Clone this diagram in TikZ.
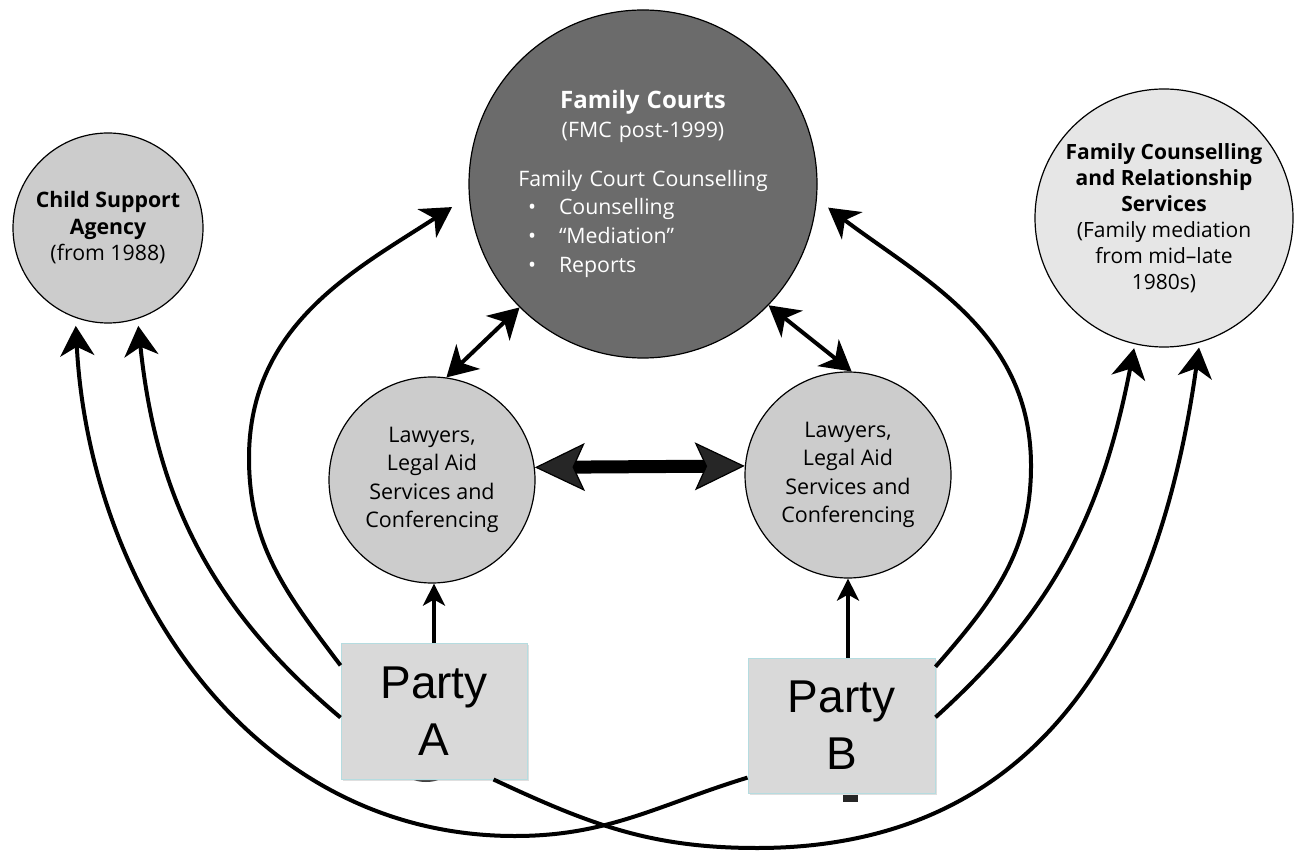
\documentclass[tikz,border=0pt]{standalone}
\usepackage{fontspec}
\setmainfont{Open Sans}
\newfontfamily\arialfont{Liberation Sans}
\usetikzlibrary{arrows.meta}
\usetikzlibrary{shadows}

\definecolor{courtgray}{HTML}{6B6B6B}
\definecolor{agencygray}{HTML}{CCCCCC}
\definecolor{servicegray}{HTML}{E6E6E6}
\definecolor{partygray}{HTML}{D9D9D9}
\definecolor{partyedge}{HTML}{B5DCE0}
\definecolor{headgray}{HTML}{262626}

\newcommand{\bulletline}[1]{\makebox[270pt][l]{\hspace*{20pt}\makebox[31pt][l]{•}#1}}

\begin{document}
\begin{tikzpicture}[x=1pt,y=1pt,
	bubble/.style={circle,draw=black,line width=1.2pt,inner sep=0pt,align=center},
	lawyer/.style={bubble,fill=agencygray,minimum size=206pt,font=\fontsize{21.5}{28.5}\selectfont},
	party/.style={rectangle,fill=partygray,draw=partyedge,line width=1pt,align=center,
		font=\arialfont\fontsize{46}{57}\selectfont,
		drop shadow={opacity=0.25,shadow xshift=1.5pt,shadow yshift=-2pt}},
	link/.style={line width=4pt,-{Stealth[length=30pt,width=34pt,inset=9pt]}},
	twoway/.style={line width=4pt,{Stealth[length=30pt,width=34pt,inset=9pt]}-{Stealth[length=30pt,width=34pt,inset=9pt]}},
	up/.style={line width=4pt,-{Stealth[length=22pt,width=22pt,inset=6pt]}},
	bigway/.style={line width=13pt,
		{Stealth[length=50pt,width=48pt,inset=11pt,line width=1.2pt,fill=headgray]}-{Stealth[length=50pt,width=48pt,inset=11pt,line width=1.2pt,fill=headgray]}}]
				\useasboundingbox (0,0) rectangle (1297,852);
				
				\node[bubble,fill=courtgray,minimum size=348pt,text=white,text width=270pt,
					font=\fontsize{21.3}{28.7}\selectfont] (fc) at (643,668)
					{{\fontsize{24}{31}\selectfont\bfseries Family Courts}\\
					(FMC post-1999)\\[20pt]
					Family Court Counselling\\
					\bulletline{Counselling}\\
					\bulletline{“Mediation”}\\
					\bulletline{Reports}};
				\node[bubble,fill=agencygray,minimum size=190pt,font=\fontsize{21.3}{26.5}\selectfont] (csa) at (108,624)
					{\textbf{Child Support}\\ \textbf{Agency}\\ (from 1988)};
				\node[bubble,fill=servicegray,minimum size=258pt,font=\fontsize{21}{26}\selectfont] (fcrs) at (1164,634)
					{\textbf{Family Counselling}\\ \textbf{and Relationship}\\ \textbf{Services}\\
					(Family mediation\\ from mid--late\\ 1980s)};
				
				\node[lawyer] (lawA) at (432,372) {Lawyers,\\ Legal Aid\\ Services and\\ Conferencing};
				\node[lawyer] (lawB) at (848,377) {Lawyers,\\ Legal Aid\\ Services and\\ Conferencing};
				
				\fill[black!75] (426,76) ellipse (16 and 6);
				\fill[black!85] (843,50) rectangle (858,57);
				
				\node[party,minimum width=186pt,minimum height=136pt] (pA) at (434,141) {Party\\ A};
				\node[party,minimum width=187pt,minimum height=135pt] (pB) at (841.5,126.5) {Party\\ B};
				
				\draw[up] (pA.north) -- (pA.north |- lawA.south);
				\draw[up] (pB.north -| lawB.south) -- (lawB.south);
				\draw[twoway] (lawA.82) -- (fc.225);
				\draw[twoway] (fc.316) -- (lawB.88);
				\draw[bigway] (lawA.7) -- (lawB.175);
				
				\draw[link,shorten >=20pt] (pA.154) to[out=127,in=270] (249,394) to[out=90,in=213] (fc.184);
				\draw[link,shorten >=14pt] (pB.32) to[out=49,in=270] (1031,386) to[out=90,in=323] (fc.355);
				\draw[link,shorten >=7pt] (pA.184) to[out=140,in=276] (csa.288);
				\draw[link,shorten >=8pt] (pB.209) to[out=197,in=0] (515,16) to[out=180,in=273] (csa.250);
				\draw[link,shorten >=5pt] (pA.311) to[out=-25,in=180] (757,4) to[out=0,in=262,looseness=1.1] (fcrs.286);
				\draw[link,shorten >=4pt] (pB.5) to[out=42,in=259] (fcrs.257);
				
			\end{tikzpicture}
\end{document}
